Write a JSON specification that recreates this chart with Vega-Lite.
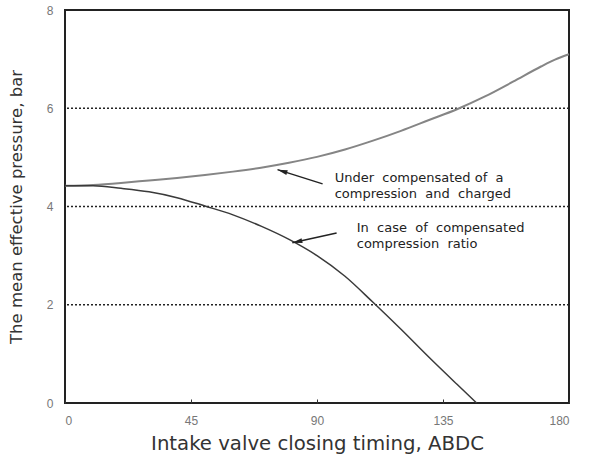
{
  "$schema": "https://vega.github.io/schema/vega-lite/v6.json",
  "autosize": {"type": "none"},
  "padding": {"left": 65, "top": 10, "right": 20, "bottom": 52},
  "width": 504,
  "height": 393,
  "config": {
    "view": {"stroke": "#222222", "strokeWidth": 2},
    "font": "Liberation Sans"
  },
  "datasets": {
    "curves": [
      {"series": "upper", "t": 0, "p": 4.42},
      {"series": "upper", "t": 10, "p": 4.44},
      {"series": "upper", "t": 20, "p": 4.48},
      {"series": "upper", "t": 30, "p": 4.53},
      {"series": "upper", "t": 40, "p": 4.58},
      {"series": "upper", "t": 50, "p": 4.64},
      {"series": "upper", "t": 60, "p": 4.71},
      {"series": "upper", "t": 70, "p": 4.79},
      {"series": "upper", "t": 80, "p": 4.89},
      {"series": "upper", "t": 90, "p": 5.01},
      {"series": "upper", "t": 100, "p": 5.16},
      {"series": "upper", "t": 110, "p": 5.34},
      {"series": "upper", "t": 120, "p": 5.54},
      {"series": "upper", "t": 130, "p": 5.76},
      {"series": "upper", "t": 140, "p": 5.98},
      {"series": "upper", "t": 150, "p": 6.24},
      {"series": "upper", "t": 160, "p": 6.54},
      {"series": "upper", "t": 170, "p": 6.85},
      {"series": "upper", "t": 175, "p": 6.99},
      {"series": "upper", "t": 180, "p": 7.1},
      {"series": "lower", "t": 0, "p": 4.42},
      {"series": "lower", "t": 10, "p": 4.42},
      {"series": "lower", "t": 20, "p": 4.37},
      {"series": "lower", "t": 30, "p": 4.3},
      {"series": "lower", "t": 40, "p": 4.18},
      {"series": "lower", "t": 50, "p": 4.01},
      {"series": "lower", "t": 60, "p": 3.83},
      {"series": "lower", "t": 70, "p": 3.6},
      {"series": "lower", "t": 80, "p": 3.33},
      {"series": "lower", "t": 90, "p": 3.0},
      {"series": "lower", "t": 100, "p": 2.58},
      {"series": "lower", "t": 110, "p": 2.05},
      {"series": "lower", "t": 120, "p": 1.5},
      {"series": "lower", "t": 130, "p": 0.93},
      {"series": "lower", "t": 140, "p": 0.38},
      {"series": "lower", "t": 147, "p": 0}
    ],
    "grid": [{"g": 2}, {"g": 4}, {"g": 6}],
    "arrows": [
      {"x1": 92, "y1": 4.46, "x2": 75.9, "y2": 4.75, "ang": 287},
      {"x1": 97, "y1": 3.46, "x2": 81.2, "y2": 3.26, "ang": 257}
    ],
    "notes": [
      {"x": 96.3, "y": 4.57, "label": "Under \u00a0compensated of \u00a0a"},
      {"x": 96.3, "y": 4.25, "label": "compression \u00a0and \u00a0charged"},
      {"x": 104.2, "y": 3.57, "label": "In \u00a0case \u00a0of \u00a0compensated"},
      {"x": 104.2, "y": 3.23, "label": "compression \u00a0ratio"}
    ]
  },
  "layer": [
    {
      "data": {"name": "grid"},
      "mark": {"type": "rule", "color": "#222222", "strokeWidth": 1.5, "strokeDash": [2, 2]},
      "encoding": {
        "y": {
          "field": "g",
          "type": "quantitative",
          "scale": {"domain": [0, 8], "nice": false},
          "axis": {
            "values": [0, 2, 4, 6, 8],
            "title": "The mean effective pressure, bar",
            "titleFont": "DejaVu Sans",
            "titleFontSize": 16.5,
            "titleFontWeight": "normal",
            "titleColor": "#333333",
            "titlePadding": 22,
            "labelFontSize": 12,
            "labelColor": "#777777",
            "labelPadding": 12,
            "ticks": false,
            "domain": false,
            "grid": false
          }
        }
      }
    },
    {
      "data": {"name": "curves"},
      "mark": {"type": "line", "interpolate": "monotone"},
      "encoding": {
        "x": {
          "field": "t",
          "type": "quantitative",
          "scale": {"domain": [0, 180], "nice": false},
          "axis": {
            "values": [0, 45, 90, 135, 180],
            "title": "Intake valve closing timing, ABDC",
            "titleFont": "DejaVu Sans",
            "titleFontSize": 19.7,
            "titleFontWeight": "normal",
            "titleColor": "#333333",
            "titlePadding": 7,
            "labelFontSize": 12,
            "labelColor": "#777777",
            "labelPadding": 16,
            "tickSize": -4,
            "tickColor": "#333333",
            "domain": false,
            "grid": false
          }
        },
        "y": {"field": "p", "type": "quantitative"},
        "detail": {"field": "series"},
        "color": {
          "field": "series",
          "type": "nominal",
          "scale": {"domain": ["upper", "lower"], "range": ["#858585", "#3a3a3a"]},
          "legend": null
        },
        "strokeWidth": {
          "field": "series",
          "type": "nominal",
          "scale": {"domain": ["upper", "lower"], "range": [2, 1.5]},
          "legend": null
        }
      }
    },
    {
      "data": {"name": "arrows"},
      "mark": {"type": "rule", "color": "#222222", "strokeWidth": 1.5},
      "encoding": {
        "x": {"field": "x1", "type": "quantitative"},
        "y": {"field": "y1", "type": "quantitative"},
        "x2": {"field": "x2"},
        "y2": {"field": "y2"}
      }
    },
    {
      "data": {"name": "arrows"},
      "mark": {"type": "point", "shape": "M0,0L-0.5,2L0.5,2Z", "filled": true, "color": "#222222", "size": 100, "opacity": 1},
      "encoding": {
        "x": {"field": "x2", "type": "quantitative"},
        "y": {"field": "y2", "type": "quantitative"},
        "angle": {"field": "ang", "type": "quantitative", "scale": null}
      }
    },
    {
      "data": {"name": "notes"},
      "mark": {"type": "text", "align": "left", "baseline": "middle", "fontSize": 13, "font": "DejaVu Sans", "color": "#222222"},
      "encoding": {
        "x": {"field": "x", "type": "quantitative"},
        "y": {"field": "y", "type": "quantitative"},
        "text": {"field": "label"}
      }
    }
  ]
}
